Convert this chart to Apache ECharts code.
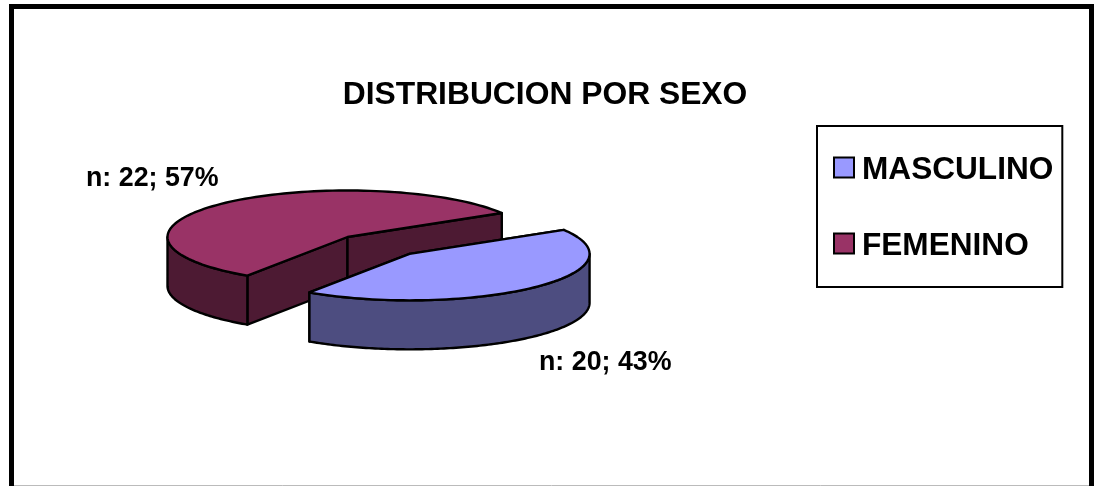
<!DOCTYPE html>
<html>
<head>
<meta charset="utf-8">
<style>html,body{margin:0;padding:0;background:#fff}#c{width:1095px;height:486px}</style>
<script src="https://cdn.jsdelivr.net/npm/echarts@6/dist/echarts.min.js"></script>
</head>
<body>
<div id="c"></div>
<script>
var titleText = 'DISTRIBUCION POR SEXO';
var categories = ['MASCULINO', 'FEMENINO'];
var counts = [20, 22];
var percents = [43, 57];
var exploded = [0.5, 0];
var topColors = ['#9999FF', '#993366'];
var sideColors = ['#4D4D80', '#4D1A33'];
var labelAnchors = [[539, 362.5], [86, 179]];

var FONT = '"Liberation Sans", Arial, sans-serif';
var pie = { cx: 347.5, cy: 237, rx: 180, ry: 46.5, depth: 49, start: 31 };
var total = percents.reduce(function (a, b) { return a + b; }, 0);
var line = { stroke: '#000', lineWidth: 2.4, lineJoin: 'round' };

function slice(i) {
  var before = 0;
  for (var k = 0; k < i; k++) before += percents[k];
  var a0 = pie.start - before / total * 360;
  var a1 = a0 - percents[i] / total * 360;
  var mid = (a0 + a1) / 2 * Math.PI / 180;
  return {
    a0: a0, a1: a1,
    cx: pie.cx + exploded[i] * pie.rx * Math.cos(mid),
    cy: pie.cy - exploded[i] * pie.ry * Math.sin(mid)
  };
}
function pt(s, deg, dz) {
  var t = deg * Math.PI / 180;
  return [s.cx + pie.rx * Math.cos(t), s.cy - pie.ry * Math.sin(t) + (dz || 0)];
}
function arc(s, from, to, dz) {
  var n = Math.max(2, Math.ceil(Math.abs(to - from) / 2)), out = [];
  for (var j = 0; j <= n; j++) out.push(pt(s, from + (to - from) * j / n, dz));
  return out;
}
function poly(points, fill) {
  return { type: 'polygon', shape: { points: points }, style: Object.assign({ fill: fill }, line), silent: true };
}
function norm(a) { return ((a % 360) + 360) % 360; }

function renderSlice(i) {
  return function () {
    var s = slice(i), kids = [], side = sideColors[i];
    var hi = s.a0, lo = s.a1;           // clockwise from hi down to lo
    // cut faces first: the outer wall and the top cover whatever is hidden
    var c = [s.cx, s.cy], cd = [s.cx, s.cy + pie.depth];
    [hi, lo].forEach(function (a) {
      kids.push(poly([c, pt(s, a, 0), pt(s, a, pie.depth), cd], side));
    });
    // outer wall: the part of the rim facing the viewer (180..360 degrees)
    var steps = [];
    for (var a = hi; a > lo; a -= 1) steps.push(a);
    steps.push(lo);
    var front = steps.filter(function (a) { return norm(a) >= 180 || norm(a) === 0; });
    if (front.length > 1) {
      var upper = front.map(function (a) { return pt(s, a, 0); });
      var lower = front.slice().reverse().map(function (a) { return pt(s, a, pie.depth); });
      kids.push(poly(upper.concat(lower), side));
    }
    // top face
    kids.push(poly([c].concat(arc(s, hi, lo, 0)), topColors[i]));
    // value label
    kids.push({
      type: 'text', silent: true,
      style: {
        x: labelAnchors[i][0], y: labelAnchors[i][1],
        text: 'n: ' + counts[i] + '; ' + percents[i] + '%',
        font: 'bold 26.8px ' + FONT, fill: '#000',
        textAlign: 'left', textVerticalAlign: 'middle'
      }
    });
    return { type: 'group', children: kids };
  };
}

var chart = echarts.init(document.getElementById('c'), null, { renderer: 'canvas' });
chart.setOption({
  animation: false,
  backgroundColor: '#fff',
  title: {
    text: titleText, left: 540, top: 74, textAlign: 'center',
    textStyle: { fontFamily: FONT, fontWeight: 'bold', fontSize: 31.8, color: '#000' }
  },
  legend: {
    orient: 'vertical', left: 817, top: 126,
    data: categories,
    padding: [28, 9, 25, 16],
    itemWidth: 20, itemHeight: 20, itemGap: 44,
    backgroundColor: '#fff', borderColor: '#000', borderWidth: 2,
    icon: 'rect', selectedMode: false,
    itemStyle: { borderColor: '#000', borderWidth: 2 },
    formatter: '{t|{name}}',
    textStyle: {
      rich: { t: { fontFamily: FONT, fontWeight: 'bold', fontSize: 31.6, color: '#000', padding: [5, 0, 0, 3] } }
    }
  },
  tooltip: { show: false },
  graphic: [
    { type: 'rect', z: -1, shape: { x: 11.5, y: 6.5, width: 1080, height: 490 }, style: { fill: '#fff', stroke: '#000', lineWidth: 5 }, silent: true },
    { type: 'line', z: -1, shape: { x1: 14, y1: 485.5, x2: 1089, y2: 485.5 }, style: { stroke: '#BBBBBB', lineWidth: 1 }, silent: true }
  ],
  series: [
    { type: 'custom', name: categories[1], coordinateSystem: 'none', itemStyle: { color: topColors[1] }, data: [percents[1]], renderItem: renderSlice(1), z: 2 },
    { type: 'custom', name: categories[0], coordinateSystem: 'none', itemStyle: { color: topColors[0] }, data: [percents[0]], renderItem: renderSlice(0), z: 3 }
  ]
});
</script>
</body>
</html>
